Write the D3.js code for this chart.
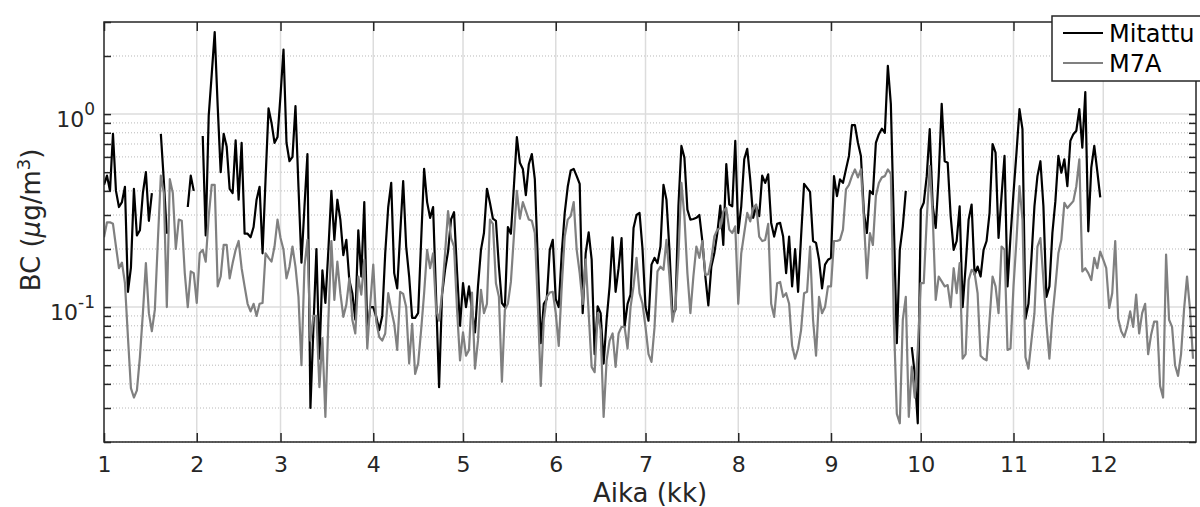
<!DOCTYPE html>
<html>
<head>
<meta charset="utf-8">
<script src="https://cdn.jsdelivr.net/npm/d3@7"></script>
<style>
  html, body { margin: 0; padding: 0; background: #fff; }
  svg { display: block; font-family: "DejaVu Sans", sans-serif; }
</style>
</head>
<body>
<svg id="chart" width="1200" height="507"></svg>
<script>
// ---------------- DATA ----------------
// x-axis: day of year (0 = 1 Jan); ticks at first day of each month, labelled with month number
const monthStartDays = [0, 31, 59, 90, 120, 151, 181, 212, 243, 273, 304, 334];
const monthLabels = ["1", "2", "3", "4", "5", "6", "7", "8", "9", "10", "11", "12"];
const yMajorTicks = [0.1, 1];
const yMajorLabels = [["10", "-1"], ["10", "0"]];
const seriesNames = ["Mitattu", "M7A"];

// Daily BC (µg/m3), measured ("Mitattu"), day 0..333, null = missing
const mitattu = [
0.43,0.48,0.40,0.79,0.40,0.33,0.35,0.42,0.12,0.16,
0.41,0.235,0.25,0.39,0.50,0.28,0.39,null,null,0.79,
0.45,0.24,null,null,null,null,null,null,0.33,0.48,
0.40,null,null,0.77,0.235,0.98,1.6,2.66,1.1,0.50,
0.79,0.68,0.41,0.39,0.73,0.36,0.71,0.24,0.24,0.23,
0.26,0.36,0.42,0.19,0.46,1.07,0.9,0.71,0.76,1.25,
2.16,0.71,0.57,0.6,1.1,0.42,0.17,0.33,0.62,0.03,
0.079,0.2,0.054,0.155,0.105,0.198,0.4,0.223,0.36,0.284,
0.186,0.223,0.138,0.118,0.086,0.25,0.144,0.35,0.074,0.1,
0.1,0.089,0.076,0.09,0.19,0.33,0.44,0.15,0.125,0.24,
0.45,0.206,0.144,0.088,0.088,0.093,0.22,0.52,0.35,0.29,
0.33,0.113,0.0385,0.116,0.156,0.194,0.285,0.31,0.153,0.08,
0.133,0.1,0.128,0.0965,0.074,0.128,0.198,0.242,0.41,0.347,
0.287,0.28,0.162,0.105,0.1,0.26,0.24,0.42,0.76,0.56,
0.52,0.38,0.55,0.62,0.46,0.176,0.065,0.104,0.11,0.198,
0.223,0.11,0.1,0.19,0.308,0.42,0.51,0.52,0.477,0.435,
0.093,0.19,0.244,0.176,0.057,0.101,0.093,0.051,0.086,0.128,
0.23,0.12,0.159,0.228,0.079,0.104,0.116,0.257,0.3,0.308,
0.2,0.1,0.085,0.166,0.18,0.169,0.206,0.43,0.36,0.198,
0.091,0.097,0.333,0.684,0.595,0.32,0.284,0.286,0.29,0.3,
0.22,0.144,0.102,0.162,0.19,0.242,0.336,0.21,0.55,0.34,
0.333,0.726,0.242,0.333,0.583,0.66,0.459,0.29,0.333,0.296,
0.48,0.44,0.487,0.273,0.232,0.27,0.273,0.232,0.15,0.232,
0.128,0.2,0.12,0.232,0.435,0.415,0.395,0.22,0.215,0.176,
0.125,0.166,0.176,0.18,0.477,0.376,0.459,0.44,0.517,0.607,
0.876,0.876,0.71,0.607,0.308,0.242,0.4,0.385,0.71,0.787,
0.84,0.80,1.78,1.13,0.273,0.065,0.198,0.262,0.4,null,
0.062,0.045,0.025,0.32,0.347,0.477,0.835,0.333,0.257,0.477,
1.13,0.57,0.56,0.296,0.198,0.22,0.333,0.1,0.162,0.284,
0.34,0.147,0.162,0.144,0.198,0.22,0.308,0.70,0.632,0.228,
0.376,0.607,0.128,0.232,0.39,0.632,1.06,0.835,0.087,0.104,
0.18,0.333,0.477,0.57,0.333,0.113,0.128,0.242,0.354,0.607,
0.497,0.583,0.423,0.726,0.787,0.82,1.06,0.67,1.3,0.247,
0.528,0.684,0.507,0.37
];

// Daily BC (µg/m3), modelled ("M7A"), day 0..364
const m7a = [
0.23,0.275,0.275,0.27,0.206,0.159,0.17,0.133,0.07,0.038,
0.034,0.037,0.055,0.093,0.169,0.093,0.075,0.097,0.22,0.48,
0.39,0.10,0.46,0.39,0.20,0.284,0.28,0.15,0.10,0.153,
0.15,0.105,0.19,0.198,0.172,0.295,0.43,0.43,0.128,0.144,
0.21,0.21,0.141,0.169,0.198,0.22,0.159,0.128,0.104,0.095,
0.104,0.09,0.104,0.105,0.19,0.18,0.172,0.206,0.284,0.228,
0.198,0.141,0.162,0.206,0.162,0.113,0.05,0.162,0.223,0.067,
0.09,0.09,0.0385,0.069,0.027,0.086,0.22,0.109,0.172,0.118,
0.089,0.103,0.141,0.086,0.073,0.144,0.116,0.176,0.061,0.104,
0.166,0.084,0.07,0.067,0.073,0.118,0.097,0.082,0.06,0.12,
0.117,0.1,0.051,0.082,0.045,0.051,0.076,0.118,0.198,0.159,
0.19,0.097,0.085,0.118,0.19,0.314,0.228,0.206,0.097,0.053,
0.074,0.056,0.06,0.119,0.048,0.067,0.123,0.093,0.104,0.284,
0.27,0.133,0.113,0.041,0.097,0.104,0.135,0.232,0.4,0.287,
0.35,0.315,0.284,0.28,0.242,0.104,0.039,0.086,0.113,0.119,
0.12,0.093,0.063,0.128,0.232,0.284,0.296,0.35,0.198,0.15,
0.104,0.176,0.093,0.049,0.046,0.093,0.076,0.027,0.053,0.067,
0.073,0.049,0.073,0.079,0.079,0.061,0.1,0.128,0.18,0.118,
0.104,0.079,0.057,0.052,0.078,0.153,0.162,0.156,0.223,0.144,
0.084,0.1,0.183,0.44,0.296,0.15,0.093,0.144,0.206,0.18,
0.22,0.147,0.148,0.176,0.232,0.252,0.257,0.314,0.326,0.252,
0.242,0.262,0.104,0.19,0.242,0.308,0.278,0.326,0.34,0.232,
0.22,0.223,0.27,0.104,0.089,0.133,0.135,0.113,0.118,0.104,
0.063,0.054,0.061,0.076,0.118,0.12,0.206,0.086,0.056,0.113,
0.093,0.1,0.128,0.128,0.22,0.22,0.223,0.252,0.407,0.43,
0.477,0.517,0.47,0.517,0.284,0.141,0.242,0.21,0.376,0.44,
0.47,0.477,0.517,0.49,0.086,0.028,0.025,0.086,0.113,0.027,
0.049,0.034,0.06,0.133,0.133,0.284,0.538,0.296,0.109,0.144,
0.136,0.128,0.13,0.1,0.159,0.118,0.169,0.054,0.057,0.138,
0.156,0.15,0.118,0.056,0.054,0.053,0.086,0.144,0.128,0.093,
0.206,0.198,0.06,0.061,0.128,0.223,0.423,0.284,0.055,0.048,
0.067,0.093,0.206,0.228,0.138,0.082,0.054,0.089,0.128,0.19,
0.223,0.347,0.326,0.34,0.354,0.423,0.583,0.153,0.159,0.15,
0.138,0.18,0.159,0.194,0.176,0.159,0.099,0.118,0.22,0.087,
0.075,0.07,0.079,0.095,0.079,0.116,0.073,0.093,0.104,0.057,
0.072,0.084,0.084,0.039,0.034,0.187,0.086,0.079,0.05,0.044,
0.057,0.097,0.144,0.097,0.054
];

// ---------------- CHART ----------------
const svg = d3.select("#chart");
const W = 1200, H = 507;
const m = { left: 104, right: 4, top: 22, bottom: 65 };
const x0 = m.left, x1 = W - m.right, y0 = m.top, y1 = H - m.bottom;
const axisColor = "#262626";

const x = d3.scaleLinear().domain([0, 365]).range([x0, x1]);
const y = d3.scaleLog().domain([0.02, 3]).range([y1, y0]);

svg.append("rect").attr("width", W).attr("height", H).attr("fill", "#fff");

// minor y grid (dotted)
const minorVals = [];
[0.01, 0.1, 1].forEach(dec => {
  for (let k = 2; k <= 9; k++) {
    const v = dec * k;
    if (v >= 0.02 && v <= 3) minorVals.push(v);
  }
});
const grid = svg.append("g");
grid.selectAll("line.minor").data(minorVals.filter(v => v < 3)).join("line")
  .attr("x1", x0).attr("x2", x1)
  .attr("y1", d => y(d)).attr("y2", d => y(d))
  .attr("stroke", "#b8b8b8").attr("stroke-width", 1)
  .attr("stroke-dasharray", "1,2");

// major grid
grid.selectAll("line.vx").data(monthStartDays.slice(1)).join("line")
  .attr("x1", d => x(d)).attr("x2", d => x(d))
  .attr("y1", y0).attr("y2", y1)
  .attr("stroke", "#dcdcdc").attr("stroke-width", 1.5);
grid.selectAll("line.hy").data(yMajorTicks).join("line")
  .attr("x1", x0).attr("x2", x1)
  .attr("y1", d => y(d)).attr("y2", d => y(d))
  .attr("stroke", "#dcdcdc").attr("stroke-width", 1.5);

// clip
svg.append("clipPath").attr("id", "clip").append("rect")
  .attr("x", x0).attr("y", y0).attr("width", x1 - x0).attr("height", y1 - y0);

const line = d3.line()
  .defined(d => d != null)
  .x((d, i) => x(i))
  .y(d => y(d));

const plot = svg.append("g").attr("clip-path", "url(#clip)");
plot.append("path").datum(mitattu)
  .attr("d", line).attr("fill", "none")
  .attr("stroke", "#000").attr("stroke-width", 2.2).attr("stroke-linejoin", "round");
plot.append("path").datum(m7a)
  .attr("d", line).attr("fill", "none")
  .attr("stroke", "#808080").attr("stroke-width", 2.2).attr("stroke-linejoin", "round");

// axes (MATLAB-like box with inward ticks)
const xTickLen = 9, yTickLen = 7;
const xAxisB = d3.axisBottom(x).tickValues(monthStartDays).tickFormat((d, i) => monthLabels[i])
  .tickSizeInner(-xTickLen).tickSizeOuter(0).tickPadding(14);
const gxb = svg.append("g").attr("transform", `translate(0,${y1})`).call(xAxisB);
gxb.select(".domain").remove();
gxb.selectAll("line").attr("stroke", axisColor).attr("stroke-width", 1.5);
gxb.selectAll("text").attr("font-size", 22).attr("fill", axisColor)
  .attr("font-family", "DejaVu Sans").attr("dy", "0.71em");

const xAxisT = d3.axisTop(x).tickValues(monthStartDays).tickFormat("")
  .tickSizeInner(-xTickLen).tickSizeOuter(0);
const gxt = svg.append("g").attr("transform", `translate(0,${y0})`).call(xAxisT);
gxt.select(".domain").remove();
gxt.selectAll("line").attr("stroke", axisColor).attr("stroke-width", 1.5);

const allY = yMajorTicks.concat(minorVals);
const gyl = svg.append("g").attr("transform", `translate(${x0},0)`)
  .call(d3.axisLeft(y).tickValues(allY).tickFormat("").tickSizeInner(-yTickLen).tickSizeOuter(0));
gyl.select(".domain").remove();
gyl.selectAll("line").attr("stroke", axisColor).attr("stroke-width", 1.5);
const gyr = svg.append("g").attr("transform", `translate(${x1},0)`)
  .call(d3.axisRight(y).tickValues(allY).tickFormat("").tickSizeInner(-yTickLen).tickSizeOuter(0));
gyr.select(".domain").remove();
gyr.selectAll("line").attr("stroke", axisColor).attr("stroke-width", 1.5);

// y tick labels 10^n
const ylab = svg.append("g").attr("fill", axisColor);
yMajorTicks.forEach((v, i) => {
  const t = ylab.append("text").attr("x", 95).attr("y", y(v) + 13)
    .attr("text-anchor", "end").attr("font-size", 22);
  t.append("tspan").text(yMajorLabels[i][0]);
  t.append("tspan").attr("dy", -12).attr("font-size", 17).text(yMajorLabels[i][1]);
});

// box
svg.append("rect").attr("x", x0).attr("y", y0).attr("width", x1 - x0).attr("height", y1 - y0)
  .attr("fill", "none").attr("stroke", axisColor).attr("stroke-width", 1.5);

// axis titles
svg.append("text").attr("x", 650).attr("y", 502).attr("text-anchor", "middle")
  .attr("font-size", 26).attr("fill", axisColor).text("Aika (kk)");
const yt = svg.append("text").attr("transform", "translate(40,220) rotate(-90)")
  .attr("text-anchor", "middle").attr("font-size", 26).attr("fill", axisColor);
yt.append("tspan").text("BC (");
yt.append("tspan").attr("font-style", "italic").text("\u03BC");
yt.append("tspan").text("g/m");
yt.append("tspan").attr("dy", -10).attr("font-size", 18).text("3");
yt.append("tspan").attr("dy", 10).text(")");

// legend
const lg = svg.append("g");
lg.append("rect").attr("x", 1052).attr("y", 16).attr("width", 170).attr("height", 65)
  .attr("fill", "#fff").attr("stroke", axisColor).attr("stroke-width", 1.5);
const legendColors = ["#000", "#808080"];
seriesNames.forEach((name, i) => {
  const ly = 33 + i * 30;
  lg.append("line").attr("x1", 1063).attr("x2", 1103).attr("y1", ly).attr("y2", ly)
    .attr("stroke", legendColors[i]).attr("stroke-width", 2.2);
  lg.append("text").attr("x", 1109).attr("y", ly + 9).attr("font-size", 24)
    .attr("fill", "#000").text(name);
});
</script>
</body>
</html>
